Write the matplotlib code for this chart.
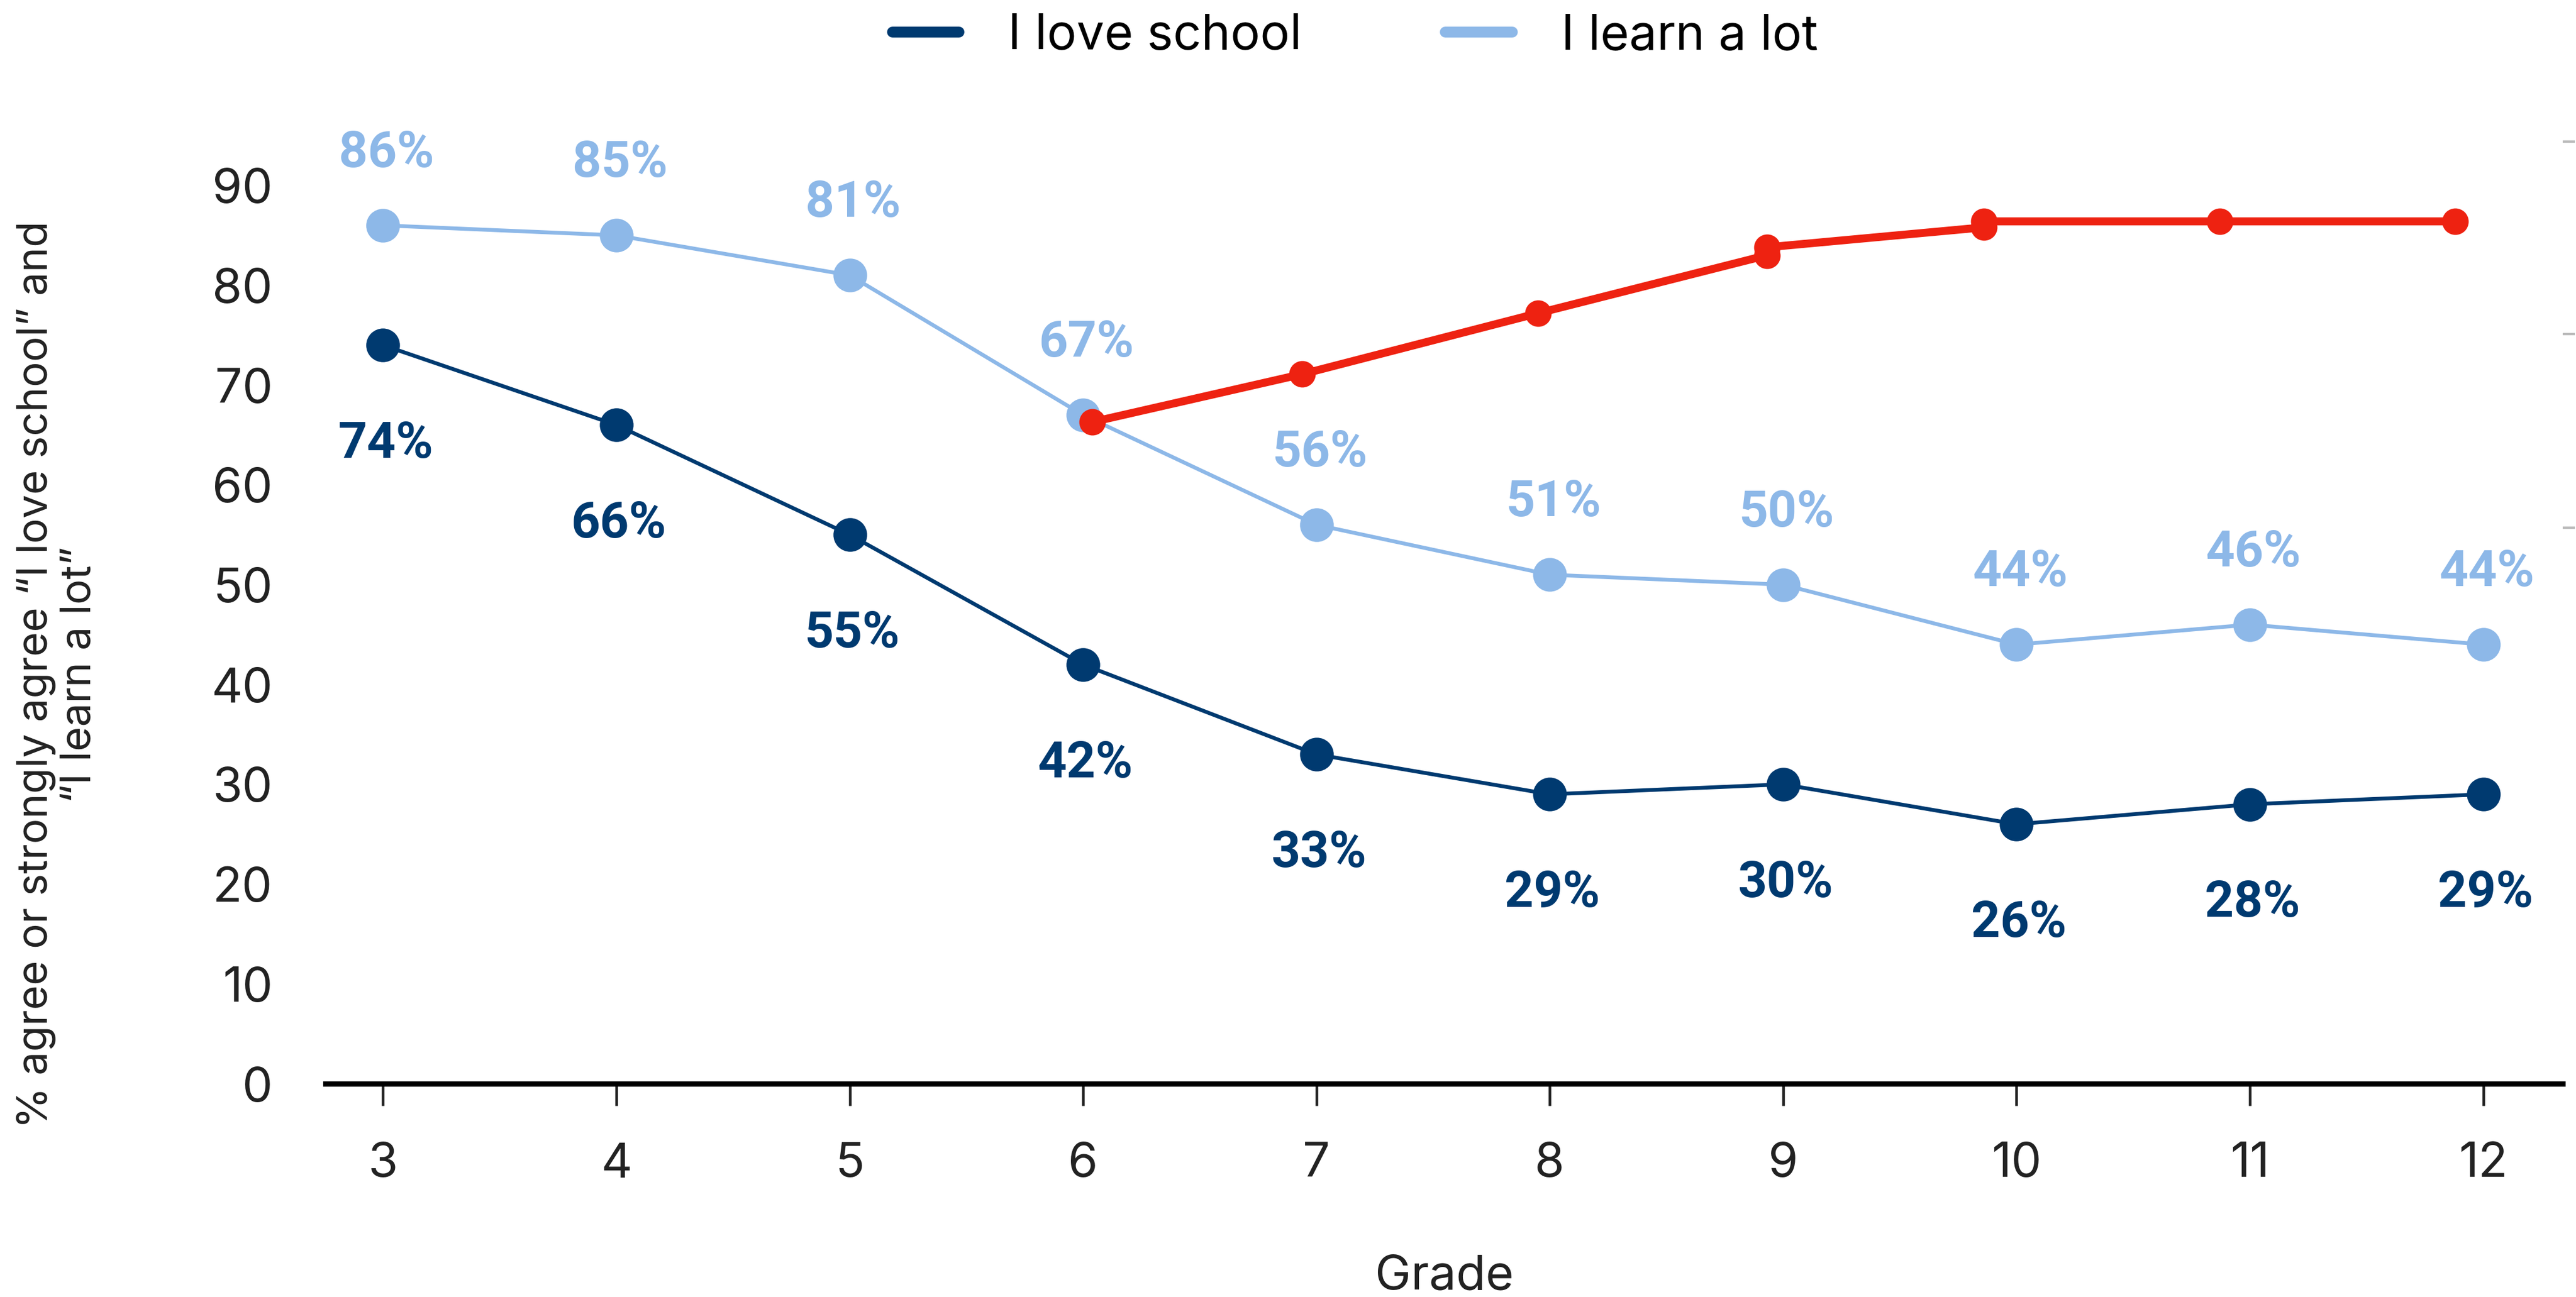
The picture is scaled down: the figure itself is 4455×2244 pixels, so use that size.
import matplotlib
matplotlib.use("Agg")
import matplotlib.pyplot as plt
from matplotlib.lines import Line2D

# survey results by grade
grades = [3, 4, 5, 6, 7, 8, 9, 10, 11, 12]
love_school = [74, 66, 55, 42, 33, 29, 30, 26, 28, 29]
learn_a_lot = [86, 85, 81, 67, 56, 51, 50, 44, 46, 44]

# red overlay line drawn on top of the chart
red_x = [6.04, 6.94, 7.95, 8.93, 8.93, 9.86, 9.86, 10.87, 11.88]
red_y = [66.3, 71.1, 77.2, 83.0, 83.8, 85.8, 86.4, 86.4, 86.4]

# faint ticks on the right edge
right_ticks = [94.4, 75.1, 55.7]

dark = "#003A70"
light = "#8DB8E8"
red = "#EE2211"

plt.rcParams['font.family'] = ['Inter', 'DejaVu Sans']

fig = plt.figure(figsize=(14.85, 7.48), dpi=300)
ax = fig.add_axes([0.1264, 0.1644, 0.8684, 0.7696])

ax.plot(grades, love_school, color=dark, lw=1.6, marker='o', ms=13, zorder=3)
ax.plot(grades, learn_a_lot, color=light, lw=1.6, marker='o', ms=13, zorder=3)
ax.plot(red_x, red_y, color=red, lw=3.3, marker='o', ms=10, zorder=5)

for g, v in zip(grades, learn_a_lot):
    ax.annotate(f"{v}%", (g, v), xytext=(1.5, 30), textcoords='offset points',
                ha='center', va='center', color=light, fontsize=21,
                fontweight='bold', family=['Roboto', 'DejaVu Sans'])
for g, v in zip(grades, love_school):
    ax.annotate(f"{v}%", (g, v), xytext=(1, -41), textcoords='offset points',
                ha='center', va='center', color=dark, fontsize=21,
                fontweight='bold', family=['Roboto', 'DejaVu Sans'])

ax.set_xlim(2.754, 12.34)
ax.set_ylim(0, 100)
ax.set_xticks(grades)
ax.set_yticks(range(0, 100, 10))
for s in ['top', 'right', 'left']:
    ax.spines[s].set_visible(False)
ax.spines['bottom'].set_linewidth(2.2)
ax.tick_params(axis='x', length=9, width=1.1, pad=15, labelsize=20, colors='#222222')
ax.tick_params(axis='y', length=0, pad=22, labelsize=20, colors='#222222')

ax.set_xlabel("Grade", fontsize=20, labelpad=28, color='#222222')
fig.text(0.0225, 0.48,
         '% agree or strongly agree \u201cI love school\u201d and\n\u201cI learn a lot\u201d',
         rotation=90, ha='center', va='center', multialignment='center',
         fontsize=17.5, linespacing=1.12, color='#222222')

ax2 = ax.twinx()
ax2.set_ylim(0, 100)
ax2.set_yticks(right_ticks)
ax2.set_yticklabels([])
ax2.tick_params(axis='y', length=5, width=1, colors='#BBBBBB')
for s in ax2.spines.values():
    s.set_visible(False)

handles = [Line2D([0], [0], color=dark, lw=4.5, solid_capstyle='round'),
           Line2D([0], [0], color=light, lw=4.5, solid_capstyle='round')]
fig.legend(handles, ["I love school", "I learn a lot"], loc='center',
           bbox_to_anchor=(0.526, 0.972), ncol=2, frameon=False, fontsize=20.5,
           handlelength=1.35, handletextpad=1.0, columnspacing=2.9)

fig.savefig("out.png", dpi=300, facecolor='white')
